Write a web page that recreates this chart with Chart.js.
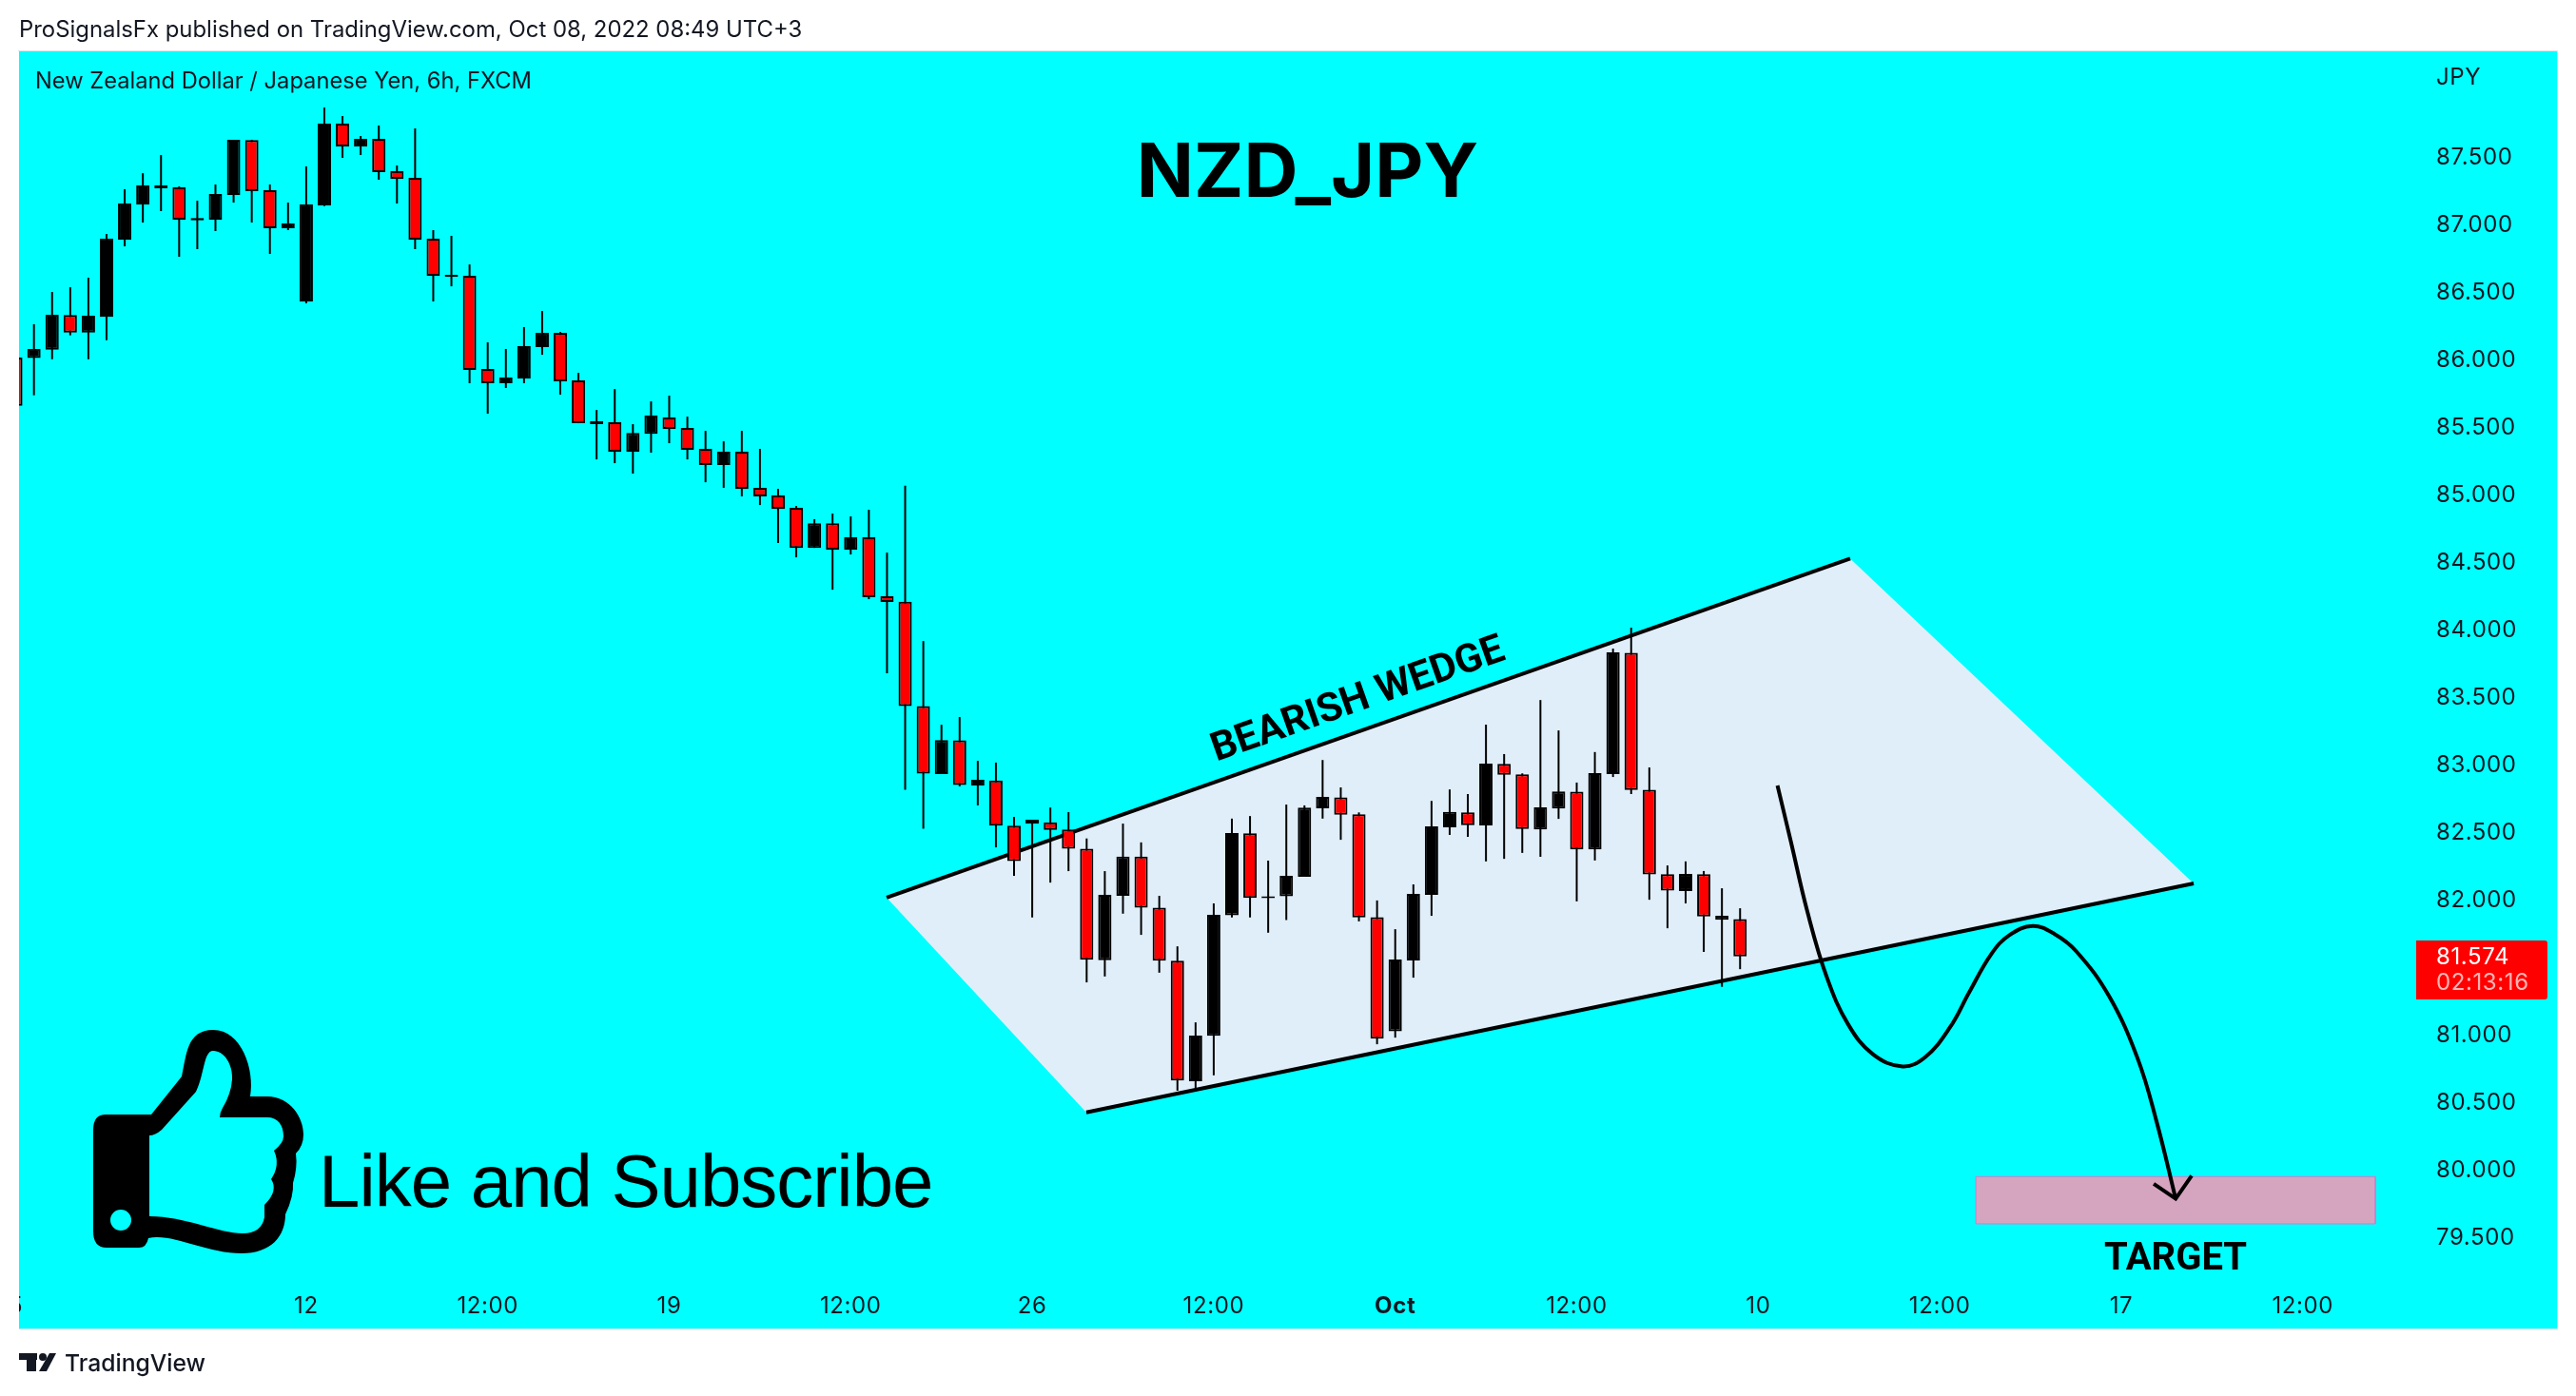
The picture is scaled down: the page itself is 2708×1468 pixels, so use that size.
<!DOCTYPE html>
<html>
<head>
<meta charset="utf-8">
<style>html,body{margin:0;padding:0;background:#fff}canvas{display:block}</style>
<script src="https://cdn.jsdelivr.net/npm/chart.js@4"></script>
</head>
<body>
<canvas id="c" width="2708" height="1468"></canvas>
<script>
const opens=[86.009,86.005,86.068,86.324,86.195,86.312,86.882,87.143,87.263,87.270,87.026,87.030,87.213,87.620,87.249,86.967,86.425,87.136,87.742,87.573,87.629,87.390,87.340,86.890,86.608,86.615,85.925,85.819,85.854,86.087,86.192,85.840,85.516,85.530,85.312,85.445,85.565,85.488,85.333,85.213,85.312,85.044,84.988,84.896,84.600,84.783,84.586,84.678,84.241,84.202,83.428,82.925,83.174,82.841,82.878,82.542,82.558,82.567,82.514,82.372,81.546,82.023,82.313,81.935,81.542,80.650,80.986,81.879,82.486,82.005,82.020,82.165,82.671,82.753,82.627,81.865,81.020,81.545,82.030,82.530,82.641,82.544,83.000,82.923,82.515,82.670,82.794,82.367,82.925,83.823,82.809,82.183,82.059,82.183,81.846,81.851];
const highs=[86.009,86.256,86.495,86.530,86.601,86.925,87.256,87.375,87.509,87.277,87.171,87.291,87.622,87.622,87.291,87.157,87.425,87.861,87.798,87.650,87.728,87.432,87.706,86.953,86.911,86.699,86.122,86.073,86.235,86.354,86.199,85.896,85.621,85.776,85.516,85.685,85.727,85.572,85.467,85.389,85.467,85.333,85.037,84.910,84.812,84.854,84.833,84.882,84.565,85.060,83.910,83.290,83.347,83.023,83.010,82.608,82.586,82.677,82.643,82.448,82.206,82.558,82.419,82.023,81.649,81.086,81.967,82.595,82.614,82.284,82.699,82.693,83.029,82.826,82.641,81.989,81.776,82.108,82.726,82.811,82.777,83.291,83.073,82.930,83.473,83.248,82.862,83.088,83.854,84.009,82.974,82.248,82.278,82.207,82.079,81.931];
const lows=[85.652,85.730,85.997,86.174,85.997,86.138,86.833,87.009,87.094,86.756,86.812,86.946,87.157,87.009,86.777,86.953,86.411,87.131,87.488,87.509,87.326,87.150,86.812,86.425,86.537,85.819,85.594,85.784,85.819,86.030,85.735,85.523,85.255,85.227,85.150,85.305,85.375,85.255,85.086,85.044,84.981,84.917,84.636,84.530,84.600,84.290,84.551,84.220,83.671,82.809,82.520,82.925,82.834,82.693,82.382,82.171,81.863,82.121,82.206,81.382,81.426,81.891,81.734,81.454,80.580,80.599,80.694,81.863,81.863,81.750,81.844,82.165,82.595,82.438,81.834,80.924,80.973,81.417,81.875,82.474,82.460,82.278,82.297,82.341,82.312,82.593,81.982,82.285,82.903,82.777,81.994,81.783,81.967,81.608,81.349,81.480];
const closes=[85.652,86.073,86.326,86.195,86.319,86.890,87.150,87.284,87.284,87.030,87.042,87.220,87.622,87.242,86.967,87.002,87.143,87.742,87.573,87.629,87.382,87.333,86.882,86.615,86.622,85.918,85.819,85.861,86.094,86.192,85.833,85.523,85.537,85.312,85.452,85.579,85.481,85.326,85.213,85.312,85.037,84.981,84.889,84.600,84.783,84.586,84.678,84.234,84.199,83.428,82.929,83.177,82.844,82.882,82.542,82.281,82.586,82.511,82.372,81.549,82.030,82.313,81.935,81.542,80.656,80.989,81.882,82.489,82.008,82.020,82.171,82.677,82.756,82.624,81.863,80.965,81.552,82.037,82.537,82.644,82.547,83.003,82.920,82.518,82.678,82.797,82.367,82.932,83.827,82.806,82.181,82.062,82.185,81.870,81.875,81.574];

const priceTicks=[79.5,80,80.5,81,82,82.5,83,83.5,84,84.5,85,85.5,86,86.5,87,87.5];
const timeTickBars=[0,16,26,36,46,56,66,76,86,96,106,116,126];
const timeTickLabels=['5','12','12:00','19','12:00','26','12:00','Oct','12:00','10','12:00','17','12:00'];

const wedgeBars=[47.98,101.07,119.99,58.98];
const wedgePrices=[82.01,84.52,82.115,80.42];
const targetBars=[107.99,130.0,130.0,107.99,107.99];
const targetPrices=[79.944,79.944,79.594,79.594,79.944];
const pathBars=[97.06,97.79,98.70,99.78,100.96,102.32,103.95,105.21,106.57,107.63,108.83,109.82,111.12,112.33,113.54,115.33,116.9,117.95,119.0];
const pathPrices=[82.84,82.43,81.91,81.42,81.07,80.85,80.76,80.83,81.05,81.31,81.59,81.73,81.80,81.74,81.61,81.28,80.82,80.35,79.78];
const arrowBars=[117.79,119.0,119.88];
const arrowPrices=[79.89,79.78,79.95];
const lastPrice='81.574';
const countdown='02:13:16';

const INK='#131722', UI='Inter, "Noto Sans", sans-serif';
const pts=(xs,ys)=>xs.map((x,i)=>({x,y:ys[i]}));
const isDown=i=>closes[i]<opens[i];

const THUMB_OUTER='M98 1188 Q98 1172 111 1172 L159 1172 L191 1132 C196 1110 196 1083 224 1083 C254 1083 268 1125 263 1153 L281 1153 C305 1153 319 1175 319 1193 Q319 1205 311 1213 Q313 1228 308 1244 Q309 1258 300 1277 C300 1300 285 1318 254 1318 C220 1318 190 1301 165 1301 Q160 1301 156 1302 Q154 1312 146 1312 L112 1312 Q98 1312 98 1295 Z';
const THUMB_INNER='M157 1194 Q163 1194 170 1188 L206 1148 C215 1130 214 1105 224 1105 C236 1105 245 1120 244 1135 Q243 1150 234 1165 Q231 1170 231 1175 L281 1175 C292 1175 298 1183 298 1195 Q298 1202 288 1210 Q295 1225 285 1240 Q293 1252 278 1267 L278 1280 Q275 1297 255 1297 C230 1297 195 1279 157 1279 Z';

const page={
  id:'page',
  beforeDraw(ch){
    const c=ch.ctx;c.save();
    c.fillStyle='#fff';c.fillRect(0,0,2708,1468);
    c.fillStyle='#00FFFF';c.fillRect(20,54,2668,1343);
    c.strokeStyle='#d6e4ea';c.lineWidth=1;c.strokeRect(19.5,53.5,2669,1344);
    c.restore();
    c.letterSpacing='0.6px';
  },
  afterDatasetsDraw(ch){
    const c=ch.ctx;c.save();
    c.fillStyle='#fff';c.fillRect(0,54,20,1344);
    c.textBaseline='middle';c.textAlign='left';c.fillStyle=INK;
    c.letterSpacing='0px';
    c.font='23.9px '+UI;
    c.fillText('ProSignalsFx published on TradingView.com, Oct 08, 2022 08:49 UTC+3',20,32);
    c.font='23.7px '+UI;
    c.fillText('New Zealand Dollar / Japanese Yen, 6h, FXCM',37,86);
    c.letterSpacing='0.6px';
    c.font='24px '+UI;
    c.fillText('JPY',2561,82);
    c.fillStyle='#FF0000';c.beginPath();c.roundRect(2540,989,138,62,[0,3,3,0]);c.fill();
    c.fillStyle='#fff';c.fillText(lastPrice,2561,1007);
    c.fillStyle='rgba(255,255,255,0.7)';c.fillText(countdown,2561,1034);
    c.fillStyle='#000';
    c.letterSpacing='0px';
    c.textAlign='center';c.textBaseline='alphabetic';
    c.font='bold 79px Inter, Roboto, sans-serif';c.fillText('NZD_JPY',1374.5,207);
    c.font='bold 40px Roboto, sans-serif';c.fillText('TARGET',2287,1335);
    c.save();c.translate(1428,737);c.rotate(-19.4*Math.PI/180);
    c.textBaseline='middle';
    c.font='bold 42px Roboto, sans-serif';c.fillText('BEARISH WEDGE',0,0);c.restore();
    c.textAlign='left';
    c.letterSpacing='-1px';
    c.font='78px "Liberation Sans", sans-serif';c.fillText('Like and Subscribe',335,1269);
    c.letterSpacing='0px';
    const p=new Path2D(THUMB_OUTER);p.addPath(new Path2D(THUMB_INNER));
    p.moveTo(138,1283);p.ellipse(127,1283,11,11,0,0,Math.PI*2);
    c.fill(p,'evenodd');
    c.fillStyle=INK;
    c.fillRect(20,1423,19,7);c.fillRect(28,1423,10,19);
    c.beginPath();c.arc(45,1427,4,0,Math.PI*2);c.fill();
    c.beginPath();c.moveTo(52,1423);c.lineTo(59,1423);c.lineTo(49,1442);c.lineTo(41,1442);c.closePath();c.fill();
    c.font='500 24.7px '+UI;c.textBaseline='middle';c.fillText('TradingView',68,1435);
    c.restore();
  }
};

new Chart(document.getElementById('c'),{
  type:'bar',
  data:{datasets:[
    {type:'line',order:10,data:pts(wedgeBars,wedgePrices),borderWidth:0,backgroundColor:'#E0EEF9',fill:'shape',tension:0},
    {type:'line',order:9,data:pts(wedgeBars.slice(0,2),wedgePrices.slice(0,2)),borderColor:'#000',borderWidth:4,tension:0},
    {type:'line',order:9,data:pts([wedgeBars[3],wedgeBars[2]],[wedgePrices[3],wedgePrices[2]]),borderColor:'#000',borderWidth:4,tension:0},
    {type:'bar',order:5,data:lows.map((l,i)=>({x:i,y:[l,highs[i]]})),backgroundColor:'#000',barThickness:2,borderWidth:0,inflateAmount:0},
    {type:'bar',order:4,data:opens.map((o,i)=>({x:i,y:[o,closes[i]]})),
      backgroundColor:ctx=>isDown(ctx.dataIndex)?'#FF0000':'#000',borderColor:'#000',borderWidth:2,borderSkipped:false,barThickness:14,inflateAmount:0},
    {type:'line',order:3,data:pts(targetBars,targetPrices),borderColor:'#CC7FC9',borderWidth:1,backgroundColor:'#D5A5BF',fill:'shape',tension:0},
    {type:'line',order:2,data:pts(pathBars,pathPrices),borderColor:'#000',borderWidth:4,tension:0.4,borderCapStyle:'butt'},
    {type:'line',order:1,data:pts(arrowBars,arrowPrices),borderColor:'#000',borderWidth:4,tension:0}
  ]},
  options:{
    responsive:false,animation:false,devicePixelRatio:1,
    layout:{padding:{left:20,top:54,right:20,bottom:71}},
    elements:{point:{radius:0}},
    datasets:{bar:{grouped:false}},
    plugins:{legend:{display:false},tooltip:{enabled:false},title:{display:false}},
    scales:{
      x:{type:'linear',offset:false,min:0.178,max:132.67,
        grid:{display:false,drawTicks:false},border:{display:false},
        afterBuildTicks:s=>{s.ticks=timeTickBars.map(v=>({value:v}))},
        afterFit:s=>{s.height=45},
        ticks:{autoSkip:false,maxRotation:0,minRotation:0,color:INK,padding:7.5,
          font:ctx=>({family:UI,size:24,weight:ctx.tick&&ctx.tick.label==='Oct'?'bold':'normal'}),
          callback:v=>timeTickLabels[timeTickBars.indexOf(v)]}},
      y:{type:'linear',position:'right',min:79.136,max:88.277,
        grid:{display:false,drawTicks:false},border:{display:false},
        afterBuildTicks:s=>{s.ticks=priceTicks.map(v=>({value:v}))},
        afterFit:s=>{s.width=140},
        ticks:{autoSkip:false,color:INK,padding:13,labelOffset:1.5,font:{family:UI,size:24},callback:v=>v.toFixed(3)}}
    }
  },
  plugins:[page]
});
</script>
</body>
</html>
